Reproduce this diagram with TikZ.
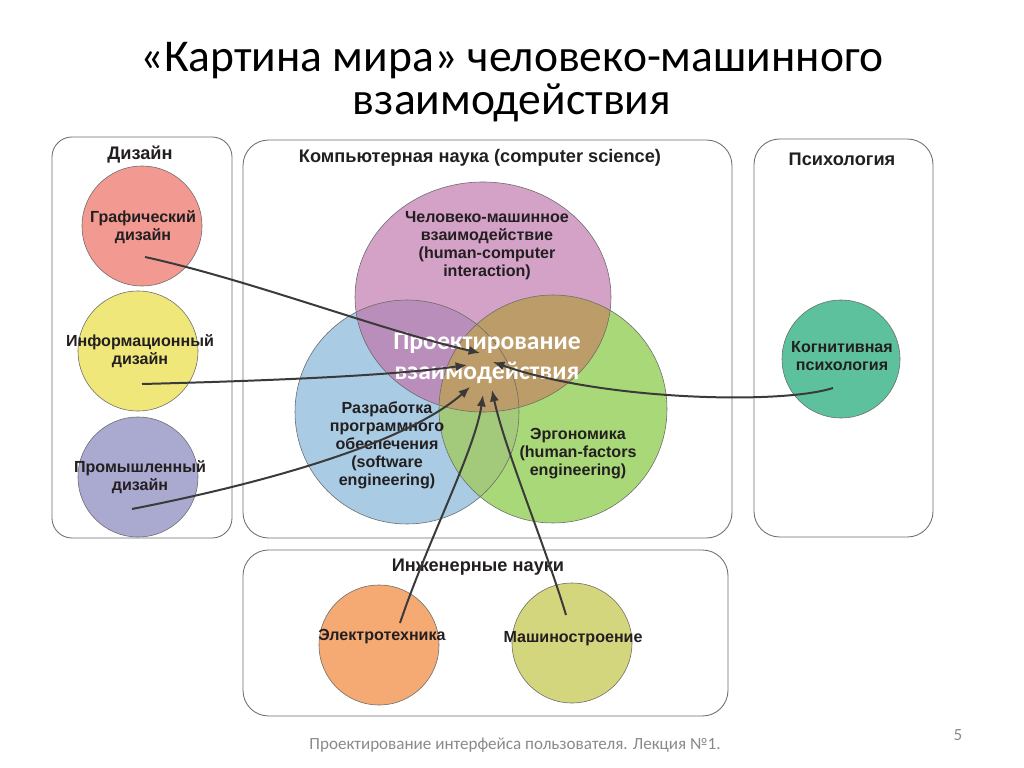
\documentclass[tikz,border=0pt]{standalone}
\usepackage{fontspec}
\setmainfont{Liberation Sans}
\newfontfamily\slidefont{Carlito}
\usetikzlibrary{arrows.meta}

\definecolor{inkdark}{HTML}{231F20}
\definecolor{panelline}{HTML}{6E6E6E}
\definecolor{ringline}{HTML}{6A6A6A}
\definecolor{linkgray}{HTML}{3A3A3A}
\definecolor{footgray}{HTML}{8A8A8A}
\definecolor{graphred}{HTML}{F29A92}
\definecolor{infoyellow}{HTML}{F0E77A}
\definecolor{indlilac}{HTML}{AAA9D0}
\definecolor{cognteal}{HTML}{5EC19E}
\definecolor{elecorange}{HTML}{F5AA74}
\definecolor{mecholive}{HTML}{D4D67E}
\definecolor{hcipink}{HTML}{D3A2C6}
\definecolor{softblue}{HTML}{A9CBE3}
\definecolor{ergogreen}{HTML}{A9D879}
\definecolor{hciblue}{HTML}{BA8EBA}
\definecolor{bluegreen}{HTML}{A3C97A}
\definecolor{ixdbrown}{HTML}{BC9C68}

\begin{document}
\begin{tikzpicture}[x=0.703125pt,y=-0.703125pt,
  lbl/.style={font=\bfseries\fontsize{11.3}{12.7}\selectfont,text=inkdark,align=center,inner sep=0pt},
  hdr/.style={font=\bfseries\fontsize{12.8}{14}\selectfont,text=inkdark,inner sep=0pt},
  panel/.style={draw=panelline,line width=0.6pt,rounded corners=14pt},
  ring/.style={draw=ringline,line width=0.4pt},
  link/.style={draw=linkgray,line width=1.4pt,-{Latex[length=8pt,width=6.5pt]}}]
\useasboundingbox[fill=white] (0,0) rectangle (1024,768);

% title
\node[inner sep=0pt,align=center,font=\slidefont\fontsize{32}{30.2}\selectfont] (title) at (512,82) {«Картина мира» человеко-машинного\\взаимодействия};

% the four frames
\draw[panel] (52,137) rectangle (232,538);
\draw[panel,rounded corners=18pt] (243,140) rectangle (732,538);
\draw[panel,rounded corners=18pt] (754,139) rectangle (933,537);
\draw[panel,rounded corners=18pt] (243,550) rectangle (728,716);
\node[hdr] (design) at (140,155) {Дизайн};
\node[hdr] (cs) at (480,158) {Компьютерная наука (computer science)};
\node[hdr] (psy) at (842,159) {Психология};
\node[hdr] (eng) at (478,567) {Инженерные науки};

% design circles
\draw[ring,fill=graphred] (142,226) circle[radius=60];
\draw[ring,fill=infoyellow] (138,351) circle[radius=60];
\draw[ring,fill=indlilac] (138,477) circle[radius=60];
\node[lbl] (graph) at (143,227) {Графический\\дизайн};
\node[lbl] (info) at (140,351) {Информационный\\дизайн};
\node[lbl] (indus) at (140,477) {Промышленный\\дизайн};

% venn of computer science
\fill[softblue] (407,412) circle[radius=112];
\fill[hcipink] (483,297) ellipse[x radius=128,y radius=115];
\fill[ergogreen] (553,409) circle[radius=114];
\begin{scope}
  \clip (407,412) circle[radius=112];
  \fill[hciblue] (483,297) ellipse[x radius=128,y radius=115];
  \fill[bluegreen] (553,409) circle[radius=114];
\end{scope}
\begin{scope}
  \clip (483,297) ellipse[x radius=128,y radius=115];
  \fill[ixdbrown] (553,409) circle[radius=114];
\end{scope}
\draw[ring] (407,412) circle[radius=112];
\draw[ring] (483,297) ellipse[x radius=128,y radius=115];
\draw[ring] (553,409) circle[radius=114];
\node[lbl] (hci) at (487,246) {Человеко-машинное\\взаимодействие\\(human-computer\\interaction)};
\node[lbl] (soft) at (387,445) {Разработка\\программного\\обеспечения\\(software\\engineering)};
\node[lbl] (ergo) at (578,454) {Эргономика\\(human-factors\\engineering)};
\node[inner sep=0pt,align=center,text=white,font=\slidefont\bfseries\fontsize{18}{21}\selectfont] (ixd) at (487,358) {Проектирование\\взаимодействия};

% psychology
\draw[ring,fill=cognteal] (841,359) circle[radius=59];
\node[lbl] (cogn) at (842,356) {Когнитивная\\психология};

% engineering
\draw[ring,fill=elecorange] (379,645) circle[radius=60];
\draw[ring,fill=mecholive] (572,643) circle[radius=60];
\node[lbl] (elec) at (382,637) {Электротехника};
\node[lbl] (mech) at (573,639) {Машиностроение};

% arrows into interaction design
\coordinate (graph-from) at (145,257);
\coordinate (info-from) at (142,384);
\coordinate (indus-from) at (132,509);
\coordinate (cogn-from) at (833,388);
\coordinate (elec-from) at (400,623);
\coordinate (mech-from) at (566,615);
\coordinate (graph-to) at (480,353);
\coordinate (info-to) at (467,365);
\coordinate (indus-to) at (470,387);
\coordinate (cogn-to) at (493,362);
\coordinate (elec-to) at (483,395);
\coordinate (mech-to) at (492,390);
\draw[link] (graph-from) .. controls (250,280) and (380,330) .. (graph-to);
\draw[link] (info-from) .. controls (260,381) and (390,376) .. (info-to);
\draw[link] (indus-from) .. controls (280,480) and (410,440) .. (indus-to);
\draw[link] (cogn-from) .. controls (780,405) and (600,400) .. (cogn-to);
\draw[link] (elec-from) .. controls (428,540) and (475,450) .. (elec-to);
\draw[link] (mech-from) .. controls (545,545) and (505,450) .. (mech-to);

% footer
\node[inner sep=0pt,text=footgray,font=\slidefont\fontsize{12}{14}\selectfont] (foot) at (515,745) {Проектирование интерфейса пользователя. Лекция №1.};
\node[inner sep=0pt,text=footgray,font=\slidefont\fontsize{12}{14}\selectfont] (page) at (958,735) {5};
\end{tikzpicture}
\end{document}
